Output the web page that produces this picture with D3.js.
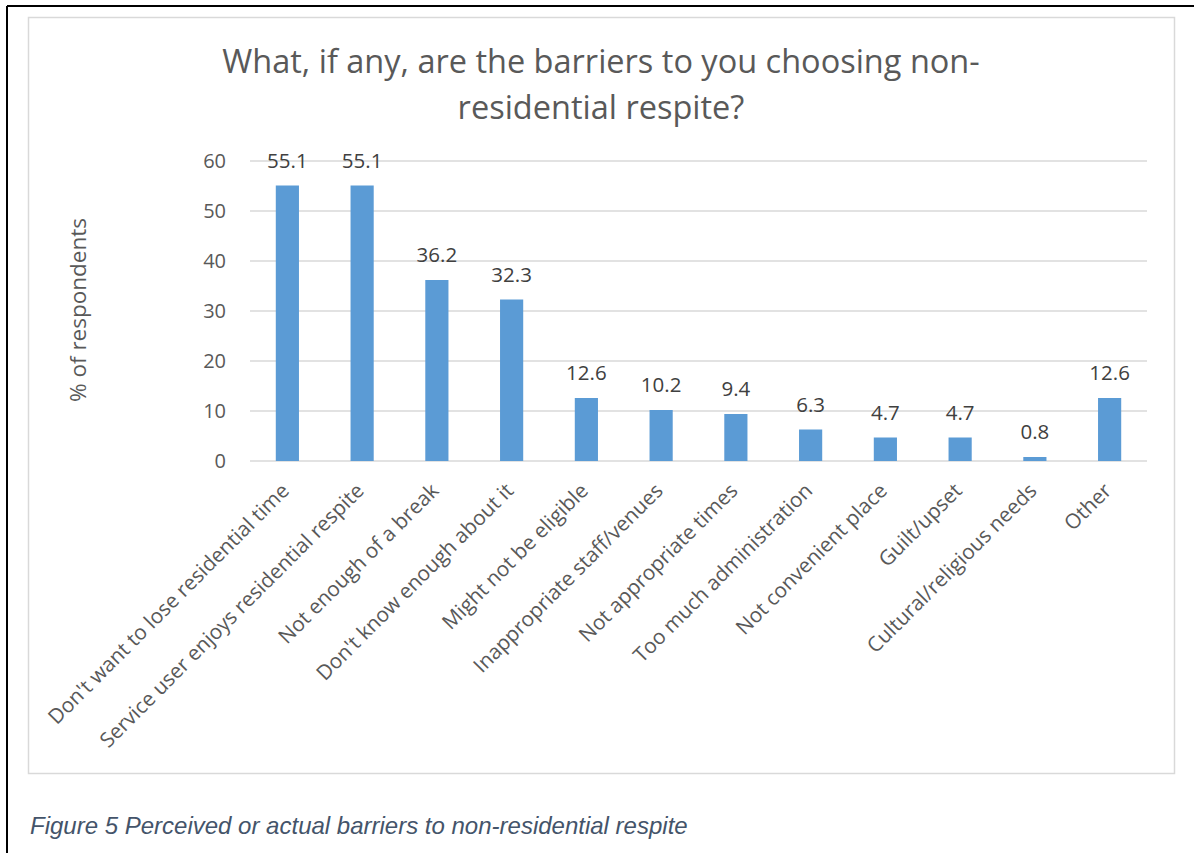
<!DOCTYPE html>
<html>
    <head>
        <title>Barriers to non-residential respite</title>
        <meta charset="UTF-8">
        <script src="https://cdnjs.cloudflare.com/ajax/libs/d3/7.9.0/d3.min.js"></script>
        <style>
            html, body {
                margin: 0;
                padding: 0;
                background: #fff;
            }
            svg {
                display: block;
            }
        </style>
    </head>
    <body>
        <div class="chart"></div>
        <script>
            let categories = [
                "Don't want to lose residential time",
                'Service user enjoys residential respite',
                'Not enough of a break',
                "Don't know enough about it",
                'Might not be eligible',
                'Inappropriate staff/venues',
                'Not appropriate times',
                'Too much administration',
                'Not convenient place',
                'Guilt/upset',
                'Cultural/religious needs',
                'Other'
            ];
            let values = [55.1, 55.1, 36.2, 32.3, 12.6, 10.2, 9.4, 6.3, 4.7, 4.7, 0.8, 12.6];
            let yTicks = [0, 10, 20, 30, 40, 50, 60];

            let w = 1194;
            let h = 856;
            let font = "'Open Sans', sans-serif";
            let textColor = '#595959';

            let svg = d3.select('.chart').append('svg')
                    .attr('width', w)
                    .attr('height', h);

            // page frame (left and top rule)
            svg.append('line')
                .attr('x1', 7).attr('y1', 6).attr('x2', w).attr('y2', 6)
                .attr('stroke', '#000').attr('stroke-width', 2);
            svg.append('line')
                .attr('x1', 7).attr('y1', 6).attr('x2', 7).attr('y2', 853)
                .attr('stroke', '#000').attr('stroke-width', 2);

            // chart area border
            svg.append('rect')
                .attr('x', 28.5).attr('y', 17.5)
                .attr('width', 1146).attr('height', 756)
                .attr('fill', '#fff')
                .attr('stroke', '#d9d9d9')
                .attr('stroke-width', 1.5);

            svg.append('text')
                .attr('x', 601).attr('y', 73)
                .attr('text-anchor', 'middle')
                .style('font-family', font)
                .style('font-size', '32.5px')
                .attr('fill', textColor)
                .text('What, if any, are the barriers to you choosing non-');
            svg.append('text')
                .attr('x', 601).attr('y', 119)
                .attr('text-anchor', 'middle')
                .style('font-family', font)
                .style('font-size', '32.5px')
                .attr('fill', textColor)
                .text('residential respite?');

            let x = d3.scaleBand()
                    .domain(categories)
                    .range([250, 1147])
                    .paddingInner(0.69)
                    .paddingOuter(0.345);

            let y = d3.scaleLinear()
                    .domain([0, 60])
                    .range([461, 161]);

            let g = svg.append('g');

            // gridlines
            g.selectAll('.grid')
                .data(yTicks)
                .enter().append('line')
                .attr('x1', 250).attr('x2', 1147)
                .attr('y1', d => y(d)).attr('y2', d => y(d))
                .attr('stroke', '#d9d9d9')
                .attr('stroke-width', 1.5);

            let yAxis = g.append('g')
                    .attr('transform', 'translate(250,0)')
                    .call(d3.axisLeft(y).tickValues(yTicks).tickSize(0).tickPadding(24));
            yAxis.select('.domain').remove();
            yAxis.selectAll('text')
                .style('font-family', font)
                .style('font-size', '20px')
                .attr('fill', textColor);

            g.selectAll('.bar')
                .data(values)
                .enter().append('rect')
                .attr('x', (d, i) => x(categories[i]))
                .attr('y', d => y(d))
                .attr('width', x.bandwidth())
                .attr('height', d => y(0) - y(d))
                .attr('fill', '#5b9bd5');

            g.selectAll('.label')
                .data(values)
                .enter().append('text')
                .attr('x', (d, i) => x(categories[i]) + x.bandwidth() / 2)
                .attr('y', d => y(d) - 18)
                .attr('text-anchor', 'middle')
                .style('font-family', font)
                .style('font-size', '20.5px')
                .attr('fill', '#404040')
                .text(d => d.toFixed(1));

            let xAxis = g.append('g')
                    .attr('transform', 'translate(0,' + y(0) + ')')
                    .call(d3.axisBottom(x).tickSize(0).tickPadding(0));
            xAxis.select('.domain').remove();
            xAxis.selectAll('text')
                .attr('text-anchor', 'end')
                .attr('dy', 0)
                .attr('transform', 'translate(3,31) rotate(-45)')
                .style('font-family', font)
                .style('font-size', '20.7px')
                .attr('fill', textColor);

            svg.append('text')
                .attr('transform', 'translate(86,310) rotate(-90)')
                .attr('text-anchor', 'middle')
                .style('font-family', font)
                .style('font-size', '22.5px')
                .attr('fill', textColor)
                .text('% of respondents');

            svg.append('text')
                .attr('x', 30).attr('y', 834)
                .style('font-family', "'Liberation Sans', Arial, sans-serif")
                .style('font-style', 'italic')
                .style('font-size', '24px')
                .attr('fill', '#44546a')
                .text('Figure 5 Perceived or actual barriers to non-residential respite');
        </script>
    </body>
</html>
